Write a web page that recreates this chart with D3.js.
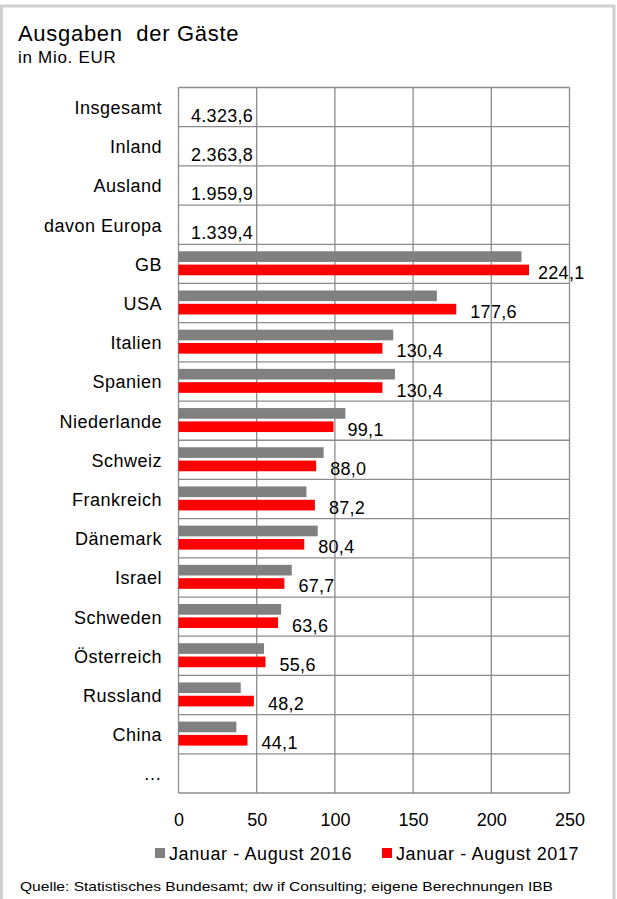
<!doctype html>
<html lang="de">
<head>
<meta charset="UTF-8" />
<title>Ausgaben der Gäste</title>
<script src="https://d3js.org/d3.v7.min.js"></script>
<style>
    body, html {
        margin: 0;
        padding: 0;
        background: #ffffff;
    }
    svg {
        display: block;
        font-family: "Liberation Sans", Arial, sans-serif;
    }
</style>
</head>
<body>
<svg id="chart"></svg>
<script>
    // data
    const categories = ["Insgesamt", "Inland", "Ausland", "davon Europa", "GB", "USA", "Italien", "Spanien",
        "Niederlande", "Schweiz", "Frankreich", "Dänemark", "Israel", "Schweden", "Österreich", "Russland", "China", "…"];
    const totalLabels = { "Insgesamt": "4.323,6", "Inland": "2.363,8", "Ausland": "1.959,9", "davon Europa": "1.339,4" };
    const series = ["Januar - August 2016", "Januar - August 2017"];
    const values2016 = [null, null, null, null, 219.3, 165.2, 137.3, 138.4, 106.7, 92.8, 81.8, 89.0, 72.4, 65.6, 54.7, 39.8, 37.0, null];
    const values2017 = [null, null, null, null, 224.1, 177.6, 130.4, 130.4, 99.1, 88.0, 87.2, 80.4, 67.7, 63.6, 55.6, 48.2, 44.1, null];
    const ticks = [0, 50, 100, 150, 200, 250];
    const colors = ["#808080", "#ff0000"];

    const width = 617;
    const height = 899;
    const margin = { top: 87.5, left: 178.5, right: 569.5, bottom: 793 };

    const svg = d3.select("#chart")
        .attr("width", width)
        .attr("height", height);

    // outer frame
    svg.append("rect")
        .attr("x", 1.5)
        .attr("y", 6)
        .attr("width", 612.5)
        .attr("height", 900)
        .attr("fill", "none")
        .attr("stroke", "#d0d0d0")
        .attr("stroke-width", 3);

    svg.append("text")
        .attr("x", 18)
        .attr("y", 41)
        .attr("font-size", 22)
        .attr("letter-spacing", 0.7)
        .attr("fill", "#000")
        .attr("xml:space", "preserve")
        .text("Ausgaben  der Gäste");

    svg.append("text")
        .attr("x", 18)
        .attr("y", 63)
        .attr("font-size", 17)
        .attr("letter-spacing", 0.7)
        .attr("fill", "#000")
        .text("in Mio. EUR");

    const x = d3.scaleLinear()
        .domain([0, 250])
        .range([margin.left, margin.right]);

    const y = d3.scaleBand()
        .domain(categories)
        .range([margin.top, margin.bottom])
        .padding(0);

    const inner = d3.scaleBand()
        .domain(series)
        .range([7, 31])
        .paddingInner(0.2);

    const grid = svg.append("g");

    // vertical gridlines
    grid.selectAll(".vgrid")
        .data(ticks)
        .enter()
        .append("line")
        .attr("x1", d => x(d))
        .attr("x2", d => x(d))
        .attr("y1", margin.top)
        .attr("y2", margin.bottom)
        .attr("stroke", "#8c8c8c")
        .attr("stroke-width", 1.3);

    // horizontal gridlines at category boundaries
    grid.selectAll(".hgrid")
        .data(categories.concat(["_end"]))
        .enter()
        .append("line")
        .attr("x1", margin.left)
        .attr("x2", margin.right)
        .attr("y1", (d, i) => margin.top + i * y.step())
        .attr("y2", (d, i) => margin.top + i * y.step())
        .attr("stroke", "#8c8c8c")
        .attr("stroke-width", 1.3);

    // bars
    const rows = categories.map((c, i) => ({ cat: c, vals: [values2016[i], values2017[i]] }));

    const rowG = svg.selectAll(".row")
        .data(rows)
        .enter()
        .append("g")
        .attr("transform", d => `translate(0,${y(d.cat)})`);

    rowG.selectAll("rect")
        .data(d => d.vals.map((v, j) => ({ v: v, s: series[j], c: colors[j] })).filter(e => e.v !== null))
        .enter()
        .append("rect")
        .attr("x", x(0))
        .attr("y", d => inner(d.s))
        .attr("width", d => x(d.v) - x(0))
        .attr("height", inner.bandwidth())
        .attr("fill", d => d.c);

    // value labels
    rowG.filter(d => d.vals[1] !== null)
        .append("text")
        .attr("x", d => Math.min(x(d.vals[1]) + 14, 538))
        .attr("y", inner(series[1]) + inner.bandwidth() / 2 + 9)
        .attr("font-size", 18)
        .attr("letter-spacing", 0.3)
        .attr("fill", "#000")
        .text(d => d3.format(".1f")(d.vals[1]).replace(".", ","));

    rowG.filter(d => totalLabels[d.cat])
        .append("text")
        .attr("x", 191)
        .attr("y", 34)
        .attr("font-size", 18)
        .attr("letter-spacing", 0.3)
        .attr("fill", "#000")
        .text(d => totalLabels[d.cat]);

    // category labels
    rowG.append("text")
        .attr("x", 162)
        .attr("y", y.bandwidth() / 2 + 7)
        .attr("text-anchor", "end")
        .attr("font-size", 18)
        .attr("letter-spacing", 0.5)
        .attr("fill", "#000")
        .text(d => d.cat);

    // x axis
    const xAxis = svg.append("g")
        .attr("transform", `translate(0,${margin.bottom})`)
        .call(d3.axisBottom(x).tickValues(ticks).tickSize(0).tickPadding(20).tickFormat(d3.format("d")));
    xAxis.select(".domain").remove();
    xAxis.selectAll("text")
        .attr("font-size", 18)
        .attr("font-family", "Liberation Sans, Arial, sans-serif")
        .attr("fill", "#000");

    // legend
    const legendX = [155, 382];
    const legend = svg.selectAll(".legend")
        .data(series)
        .enter()
        .append("g")
        .attr("transform", (d, i) => `translate(${legendX[i]},853)`);
    legend.append("rect")
        .attr("x", 0)
        .attr("y", -5)
        .attr("width", 10)
        .attr("height", 10)
        .attr("fill", (d, i) => colors[i]);
    legend.append("text")
        .attr("x", 14)
        .attr("y", 6.5)
        .attr("font-size", 18)
        .attr("letter-spacing", 0.6)
        .attr("fill", "#000")
        .text(d => d);

    // source
    svg.append("text")
        .attr("x", 20)
        .attr("y", 891)
        .attr("font-size", 13)
        .attr("fill", "#000")
        .attr("textLength", 533)
        .attr("lengthAdjust", "spacingAndGlyphs")
        .text("Quelle:  Statistisches Bundesamt;  dw if Consulting; eigene Berechnungen IBB");
</script>
</body>
</html>
